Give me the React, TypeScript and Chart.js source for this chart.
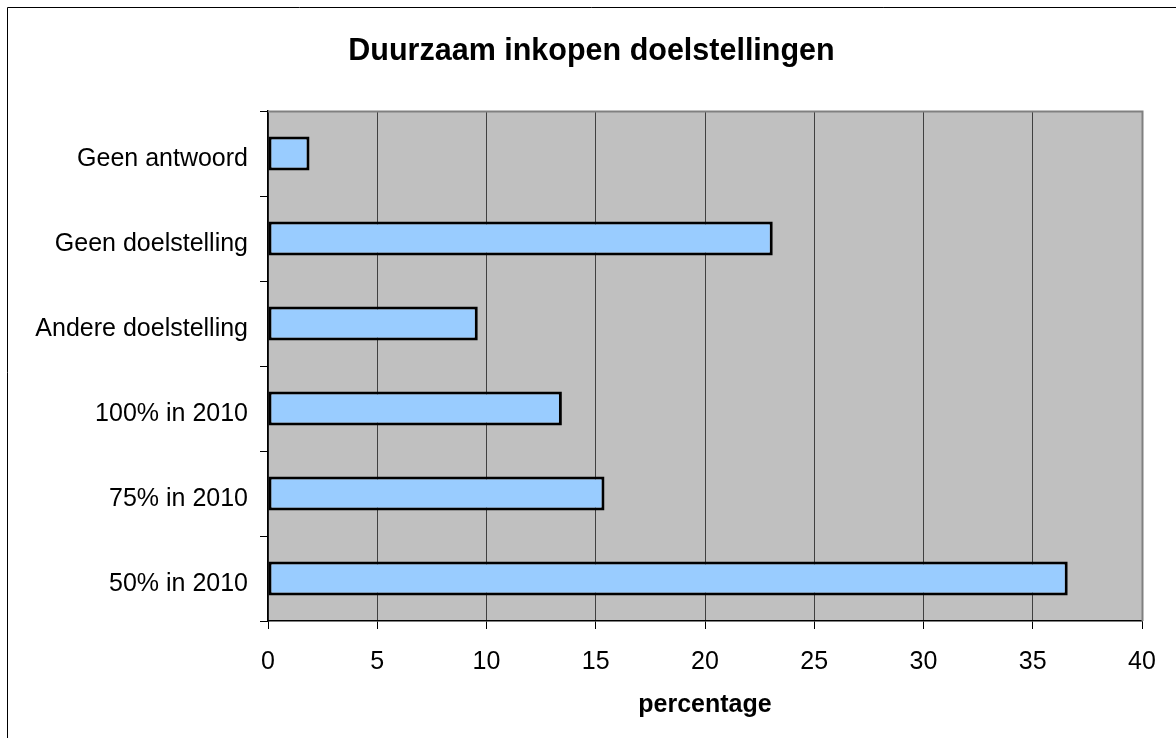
import React, { useEffect, useRef } from "react";
import { Chart, registerables } from "chart.js";

Chart.register(...registerables);

const categories = [
  "Geen antwoord",
  "Geen doelstelling",
  "Andere doelstelling",
  "100% in 2010",
  "75% in 2010",
  "50% in 2010",
];
const percentages = [1.9, 23.1, 9.6, 13.45, 15.4, 36.6];
const xTicks = [0, 5, 10, 15, 20, 25, 30, 35, 40];
const chartTitle = "Duurzaam inkopen doelstellingen";
const xTitle = "percentage";

const FONT = "'Liberation Sans', Arial, sans-serif";

const plotFrame = {
  id: "plotFrame",
  beforeDraw(chart: any) {
    const { ctx, chartArea: a } = chart;
    ctx.save();
    ctx.fillStyle = "#C0C0C0";
    ctx.fillRect(a.left, a.top, a.right - a.left, a.bottom - a.top);
    // outer chart border (left / top)
    ctx.strokeStyle = "#000";
    ctx.lineWidth = 1;
    ctx.beginPath();
    ctx.moveTo(0.5, chart.height);
    ctx.lineTo(0.5, 0.5);
    ctx.lineTo(chart.width, 0.5);
    ctx.stroke();
    // chart title, centred on the whole chart box
    ctx.fillStyle = "#000";
    ctx.font = `bold 30.5px ${FONT}`;
    ctx.textAlign = "center";
    ctx.textBaseline = "middle";
    ctx.fillText(chartTitle, 584.5, 45);
    ctx.restore();
  },
  afterDatasetsDraw(chart: any) {
    const { ctx, chartArea: a } = chart;
    ctx.save();
    ctx.strokeStyle = "#808080";
    ctx.lineWidth = 2;
    ctx.beginPath();
    ctx.moveTo(a.left, a.top + 0.5);
    ctx.lineTo(a.right + 0.5, a.top + 0.5);
    ctx.lineTo(a.right + 0.5, a.bottom);
    ctx.stroke();
    ctx.restore();
  },
};

export default function App() {
  const ref = useRef<HTMLCanvasElement>(null);

  useEffect(() => {
    if (!ref.current) return;
    const chart = new Chart(ref.current, {
      type: "bar",
      data: {
        labels: categories,
        datasets: [
          {
            data: percentages,
            backgroundColor: "#99CCFF",
            borderColor: "#000000",
            borderWidth: 3,
            borderSkipped: false,
            barPercentage: 0.4,
            categoryPercentage: 1,
          },
        ],
      },
      options: {
        indexAxis: "y",
        animation: false,
        responsive: false,
        maintainAspectRatio: false,
        layout: { padding: { left: 1, right: 34, top: 104, bottom: 0 } },
        plugins: {
          legend: { display: false },
          tooltip: { enabled: false },
          title: { display: false },
        },
        scales: {
          x: {
            type: "linear",
            min: 0,
            max: 40,
            afterFit(scale: any) {
              scale.height = 117;
            },
            afterBuildTicks(scale: any) {
              scale.ticks = xTicks.map((v) => ({ value: v }));
            },
            ticks: {
              color: "#000",
              padding: 18,
              maxRotation: 0,
              font: { family: FONT, size: 25 },
            },
            grid: {
              color: "#404040",
              lineWidth: 1,
              tickColor: "#000",
              tickLength: 8,
              drawTicks: true,
            },
            border: { color: "#000", width: 1.5 },
            title: {
              display: true,
              text: xTitle,
              color: "#000",
              font: { family: FONT, size: 25, weight: "bold", lineHeight: 1.2 },
              padding: { top: 0, bottom: 18 },
            },
          },
          y: {
            type: "category",
            afterFit(scale: any) {
              scale.width = 260;
            },
            ticks: {
              color: "#000",
              padding: 12,
              labelOffset: 6,
              font: { family: FONT, size: 25 },
            },
            grid: {
              drawOnChartArea: false,
              drawTicks: true,
              tickLength: 8,
              tickColor: "#000",
              offset: true,
            },
            border: { color: "#000", width: 1.5 },
          },
        },
      },
      plugins: [plotFrame],
    });
    return () => chart.destroy();
  }, []);

  return (
    <div style={{ position: "absolute", left: 7, top: 7, width: 1169, height: 731, overflow: "hidden" }}>
      <canvas ref={ref} width={1169} height={731} style={{ display: "block" }} />
    </div>
  );
}
